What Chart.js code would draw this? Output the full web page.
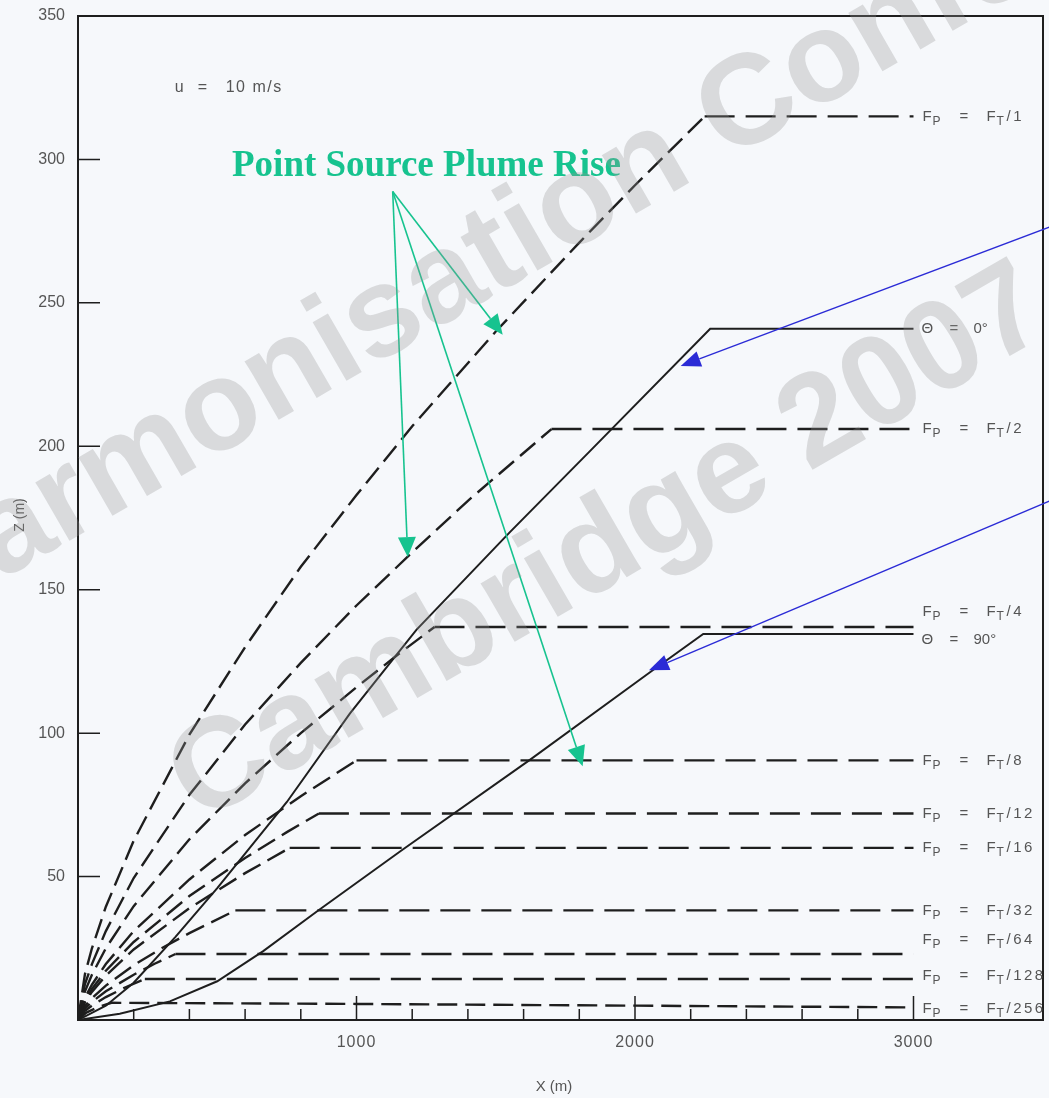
<!DOCTYPE html>
<html>
<head>
<meta charset="utf-8">
<style>
  html, body { margin: 0; padding: 0; background: #f6f8fb; }
  canvas { display: block; }
</style>
<script src="https://cdn.jsdelivr.net/npm/chart.js@4.4.1/dist/chart.umd.min.js"></script>
</head>
<body>
<canvas id="plume" width="1049" height="1098"></canvas>
<script>
// axis ticks
const X_LABELS = [1000, 2000, 3000];
const X_MINOR  = [200, 400, 600, 800, 1200, 1400, 1600, 1800, 2200, 2400, 2600, 2800];
const Y_LABELS = [50, 100, 150, 200, 250, 300, 350];

// point-source plume rise, Fp = Ft / n   [x (m), z (m)]
const FP_1   = [[0,0],[25,16],[50,25],[100,39.5],[200,62.5],[400,99.5],[600,130],[800,158],[1000,183],[1200,207],[1500,240],[1800,271],[2000,291],[2250,315],[3000,315]];
const FP_2   = [[0,0],[25,12.5],[50,19.5],[100,31],[200,49.5],[400,78.5],[600,103],[800,124.5],[1000,144.5],[1200,163],[1400,181],[1700,206],[3000,206]];
const FP_4   = [[0,0],[25,10],[50,15.8],[100,25],[200,39.7],[400,63],[600,82.5],[800,100],[1000,116],[1150,127.5],[1280,137],[3000,137]];
const FP_8   = [[0,0],[25,7.8],[50,12.3],[100,19.5],[200,31],[400,49],[600,64.5],[800,78],[1000,90.5],[3000,90.5]];
const FP_12  = [[0,0],[25,6.8],[50,10.8],[100,17.2],[200,27.2],[400,43.2],[600,56.5],[750,65.5],[865,72],[3000,72]];
const FP_16  = [[0,0],[25,6.2],[50,9.8],[100,15.5],[200,24.6],[400,39],[600,51.2],[760,60],[3000,60]];
const FP_32  = [[0,0],[25,4.8],[50,7.6],[100,12],[200,19.1],[300,25],[400,30.3],[565,38.2],[3000,38.2]];
const FP_64  = [[0,0],[25,4],[50,6.3],[100,10],[200,15.8],[275,19.6],[350,23],[3000,23]];
const FP_128 = [[0,0],[25,3.2],[50,5],[100,8],[175,11.6],[240,14.3],[3000,14.3]];
const FP_256 = [[0,0],[30,2.6],[70,4.4],[120,6],[1000,5.6],[2000,5],[3000,4.4]];

// line source, two wind angles
const THETA_0  = [[0,0],[100,5],[200,13],[350,29],[500,46],[750,76],[976,106.8],[1100,122],[1215,136],[1550,170],[1840,198.5],[2270,241],[3000,241]];
const THETA_90 = [[0,0],[150,2.2],[330,6.5],[500,13.5],[665,24],[860,38],[1160,59],[1620,90.5],[2065,122],[2245,134.6],[3000,134.6]];

const FP_SERIES  = [FP_1, FP_2, FP_4, FP_8, FP_12, FP_16, FP_32, FP_64, FP_128, FP_256];
const FP_DIVISOR = ["1", "2", "4", "8", "12", "16", "32", "64", "128", "256"];
const FP_LABEL_DY = [0, 0, -15, 0, 0, 0, 0, -14, -3, 1];

const THETA_SERIES = [THETA_0, THETA_90];
const THETA_ANGLE  = ["0°", "90°"];
const THETA_LABEL_DY = [0, 6];

// annotation anchors in data units
const GREEN_FROM = [1130, 288.8];
const GREEN_TO   = [[1184, 161.4], [1525, 238.9], [1812, 88.5]];
const BLUE_LINES = [[[3490, 276.5], [2164, 228]], [[3490, 181], [2050, 121.9]]];

const INK = "#1e1e1e";
const TEXT = "#555";
const GREEN = "#17c38f";
const BLUE = "#2b2bd6";
const FONT = '"Liberation Sans", Arial, sans-serif';

const toXY = (arr) => arr.map(([x, y]) => ({ x, y }));
const flat = (c) => c.p0.parsed.y === c.p1.parsed.y;

const datasets = [
  ...FP_SERIES.map((s) => ({
    data: toXY(s),
    borderColor: INK,
    borderWidth: 2.4,
    segment: { borderDash: (c) => (flat(c) ? [30, 11] : [20, 8]) },
  })),
  ...THETA_SERIES.map((s) => ({
    data: toXY(s),
    borderColor: INK,
    borderWidth: 2,
  })),
];

function arrow(ctx, x0, y0, x1, y1, color, len, half, width) {
  const a = Math.atan2(y1 - y0, x1 - x0);
  const bx = x1 - len * Math.cos(a), by = y1 - len * Math.sin(a);
  ctx.strokeStyle = color;
  ctx.fillStyle = color;
  ctx.lineWidth = width;
  ctx.beginPath();
  ctx.moveTo(x0, y0);
  ctx.lineTo(bx, by);
  ctx.stroke();
  ctx.beginPath();
  ctx.moveTo(x1, y1);
  ctx.lineTo(bx + half * Math.sin(a), by - half * Math.cos(a));
  ctx.lineTo(bx - half * Math.sin(a), by + half * Math.cos(a));
  ctx.closePath();
  ctx.fill();
}

function fLabel(ctx, x, y, div) {
  ctx.fillStyle = TEXT;
  ctx.textAlign = "left";
  ctx.textBaseline = "middle";
  ctx.letterSpacing = "0px";
  ctx.font = "15px " + FONT;
  ctx.fillText("F", x, y);
  ctx.fillText("=", x + 37, y);
  ctx.fillText("F", x + 64, y);
  ctx.font = "12px " + FONT;
  ctx.fillText("P", x + 10, y + 5);
  ctx.fillText("T", x + 74, y + 5);
  ctx.font = "15px " + FONT;
  ctx.letterSpacing = "2.5px";
  ctx.fillText("/" + div, x + 84, y);
  ctx.letterSpacing = "0px";
}

function thetaLabel(ctx, x, y, ang) {
  ctx.fillStyle = TEXT;
  ctx.textAlign = "left";
  ctx.textBaseline = "middle";
  ctx.font = "15px " + FONT;
  ctx.fillText("Θ", x, y);
  ctx.fillText("=", x + 28, y);
  ctx.fillText(ang, x + 52, y);
}

const decor = {
  id: "decor",
  beforeDraw(chart) {
    const ctx = chart.ctx;
    ctx.save();
    ctx.fillStyle = "#f6f8fb";
    ctx.fillRect(0, 0, chart.width, chart.height);
    ctx.restore();
  },
  afterDatasetsDraw(chart) {
    const { ctx, chartArea: a, scales: { x, y } } = chart;
    ctx.save();

    // frame
    ctx.strokeStyle = INK;
    ctx.lineWidth = 2;
    ctx.strokeRect(a.left, a.top, a.right - a.left, a.bottom - a.top);

    // ticks
    ctx.lineWidth = 1.5;
    ctx.beginPath();
    Y_LABELS.forEach((v) => {
      const py = y.getPixelForValue(v);
      ctx.moveTo(a.left, py);
      ctx.lineTo(a.left + 22, py);
    });
    X_MINOR.forEach((v) => {
      const px = x.getPixelForValue(v);
      ctx.moveTo(px, a.bottom);
      ctx.lineTo(px, a.bottom - 11);
    });
    X_LABELS.forEach((v) => {
      const px = x.getPixelForValue(v);
      ctx.moveTo(px, a.bottom);
      ctx.lineTo(px, a.bottom - 24);
    });
    ctx.stroke();

    // tick labels
    ctx.fillStyle = TEXT;
    ctx.font = "16px " + FONT;
    ctx.textAlign = "right";
    ctx.textBaseline = "middle";
    Y_LABELS.forEach((v) => ctx.fillText(String(v), a.left - 13, y.getPixelForValue(v)));
    ctx.textAlign = "center";
    ctx.letterSpacing = "1px";
    X_LABELS.forEach((v) => ctx.fillText(String(v), x.getPixelForValue(v), a.bottom + 23));
    ctx.letterSpacing = "0px";

    // axis titles
    ctx.font = "15px " + FONT;
    ctx.fillText("X (m)", 554, a.bottom + 67);
    ctx.save();
    ctx.translate(20, 515);
    ctx.rotate(-Math.PI / 2);
    ctx.font = "14px " + FONT;
    ctx.fillText("Z (m)", 0, 0);
    ctx.restore();

    // wind speed note
    ctx.textAlign = "left";
    ctx.font = "16px " + FONT;
    const ux = x.getPixelForValue(347), uy = y.getPixelForValue(325);
    ctx.fillText("u", ux, uy);
    ctx.fillText("=", ux + 23, uy);
    ctx.letterSpacing = "1.5px";
    ctx.fillText("10 m/s", ux + 51, uy);
    ctx.letterSpacing = "0px";

    // curve labels at the right end
    const lx = x.getPixelForValue(3000) + 9;
    FP_SERIES.forEach((s, i) => {
      const py = y.getPixelForValue(s[s.length - 1][1]) + FP_LABEL_DY[i];
      fLabel(ctx, lx, py, FP_DIVISOR[i]);
    });
    THETA_SERIES.forEach((s, i) => {
      const py = y.getPixelForValue(s[s.length - 1][1]) + THETA_LABEL_DY[i];
      thetaLabel(ctx, lx - 1, py, THETA_ANGLE[i]);
    });

    // green annotation
    ctx.fillStyle = GREEN;
    ctx.font = 'bold 37px "Liberation Serif", "Times New Roman", serif';
    ctx.textBaseline = "alphabetic";
    ctx.fillText("Point Source Plume Rise", x.getPixelForValue(553), y.getPixelForValue(294.3));
    const gx = x.getPixelForValue(GREEN_FROM[0]), gy = y.getPixelForValue(GREEN_FROM[1]);
    GREEN_TO.forEach(([tx, ty]) =>
      arrow(ctx, gx, gy, x.getPixelForValue(tx), y.getPixelForValue(ty), GREEN, 20, 9, 1.6));

    // blue arrows
    BLUE_LINES.forEach(([[fx, fy], [tx, ty]]) =>
      arrow(ctx, x.getPixelForValue(fx), y.getPixelForValue(fy),
        x.getPixelForValue(tx), y.getPixelForValue(ty), BLUE, 20, 8, 1.4));

    // watermark
    ctx.fillStyle = "rgba(150,150,150,0.3)";
    ctx.font = "bold 128px " + FONT;
    ctx.textAlign = "left";
    ctx.textBaseline = "alphabetic";
    [["Harmonisation Conference", -80, 627], ["Cambridge 2007", 199, 824]].forEach(([t, px, py]) => {
      ctx.save();
      ctx.translate(px, py);
      ctx.rotate(-Math.PI / 6);
      ctx.fillText(t, 0, 0);
      ctx.restore();
    });

    ctx.restore();
  },
};

new Chart(document.getElementById("plume"), {
  type: "scatter",
  data: { datasets },
  options: {
    responsive: false,
    animation: false,
    devicePixelRatio: 1,
    showLine: true,
    layout: { padding: { left: 78, right: 6, top: 16, bottom: 78 } },
    elements: { point: { radius: 0, hoverRadius: 0 }, line: { tension: 0, borderCapStyle: "butt" } },
    plugins: { legend: { display: false }, tooltip: { enabled: false } },
    scales: {
      x: { type: "linear", min: 0, max: 3465, display: false },
      y: { type: "linear", min: 0, max: 350, display: false },
    },
  },
  plugins: [decor],
});
</script>
</body>
</html>
